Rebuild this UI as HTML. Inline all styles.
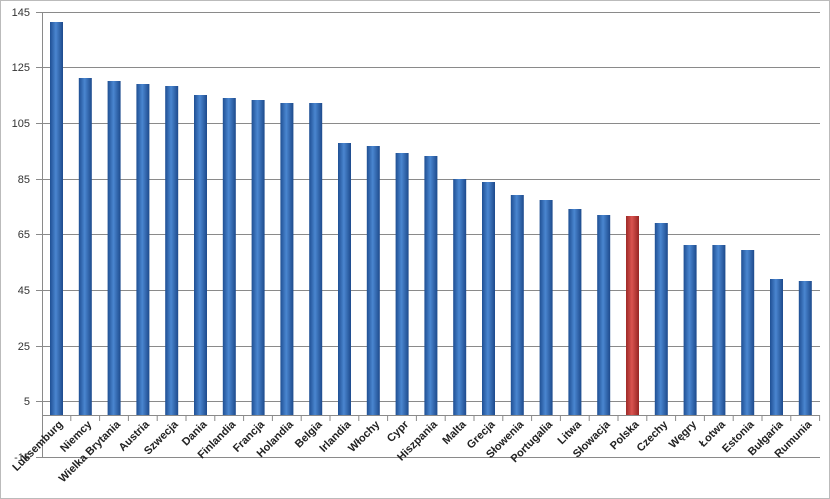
<!DOCTYPE html>
<html><head><meta charset="utf-8"><style>body{margin:0;background:#fff}svg{display:block}</style></head><body>
<svg width="830" height="499" xmlns="http://www.w3.org/2000/svg" font-family="Liberation Sans, sans-serif">
<defs>
<linearGradient id="b" x1="0" x2="1"><stop offset="0" stop-color="#1f4f93"/><stop offset="0.45" stop-color="#4a86d0"/><stop offset="1" stop-color="#1d4a8c"/></linearGradient>
<linearGradient id="r" x1="0" x2="1"><stop offset="0" stop-color="#9e2a28"/><stop offset="0.45" stop-color="#d9534f"/><stop offset="1" stop-color="#962523"/></linearGradient>
</defs>
<rect x="0.5" y="0.5" width="829" height="498" fill="#fff" stroke="#bbb"/>
<g stroke="#8a8a8a" stroke-width="1">
<line x1="36" y1="12.5" x2="820" y2="12.5"/><line x1="36" y1="67.5" x2="820" y2="67.5"/><line x1="36" y1="123.5" x2="820" y2="123.5"/><line x1="36" y1="179.5" x2="820" y2="179.5"/><line x1="36" y1="234.5" x2="820" y2="234.5"/><line x1="36" y1="290.5" x2="820" y2="290.5"/><line x1="36" y1="346.5" x2="820" y2="346.5"/><line x1="36" y1="401.5" x2="820" y2="401.5"/><line x1="36" y1="457.5" x2="820" y2="457.5"/>
<line x1="42.5" y1="12" x2="42.5" y2="458"/>
<line x1="42" y1="415.5" x2="820" y2="415.5"/>
<path d="M70.8 415V421M99.6 415V421M128.4 415V421M157.2 415V421M186 415V421M214.8 415V421M243.6 415V421M272.4 415V421M301.2 415V421M330 415V421M358.8 415V421M387.6 415V421M416.4 415V421M445.2 415V421M474 415V421M502.8 415V421M531.6 415V421M560.4 415V421M589.2 415V421M618 415V421M646.8 415V421M675.6 415V421M704.4 415V421M733.2 415V421M762 415V421M790.8 415V421M819.6 415V421"/>
</g>
<g font-size="11" fill="#333" text-anchor="end">
<text x="30" y="16">145</text><text x="30" y="71">125</text><text x="30" y="127">105</text><text x="30" y="183">85</text><text x="30" y="238">65</text><text x="30" y="294">45</text><text x="30" y="350">25</text><text x="30" y="405">5</text><text x="30" y="461">-15</text>
</g>
<g fill="url(#b)">
<rect x="50" y="22" width="13" height="393"/>
<rect x="78.8" y="78" width="13" height="337"/>
<rect x="107.6" y="81" width="13" height="334"/>
<rect x="136.4" y="84" width="13" height="331"/>
<rect x="165.2" y="86" width="13" height="329"/>
<rect x="194" y="95" width="13" height="320"/>
<rect x="222.8" y="98" width="13" height="317"/>
<rect x="251.6" y="100" width="13" height="315"/>
<rect x="280.4" y="103" width="13" height="312"/>
<rect x="309.2" y="103" width="13" height="312"/>
<rect x="338" y="143" width="13" height="272"/>
<rect x="366.8" y="146" width="13" height="269"/>
<rect x="395.6" y="153" width="13" height="262"/>
<rect x="424.4" y="156" width="13" height="259"/>
<rect x="453.2" y="179" width="13" height="236"/>
<rect x="482" y="182" width="13" height="233"/>
<rect x="510.8" y="195" width="13" height="220"/>
<rect x="539.6" y="200" width="13" height="215"/>
<rect x="568.4" y="209" width="13" height="206"/>
<rect x="597.2" y="215" width="13" height="200"/>
<rect x="654.8" y="223" width="13" height="192"/>
<rect x="683.6" y="245" width="13" height="170"/>
<rect x="712.4" y="245" width="13" height="170"/>
<rect x="741.2" y="250" width="13" height="165"/>
<rect x="770" y="279" width="13" height="136"/>
<rect x="798.8" y="281" width="13" height="134"/>
</g>
<rect x="626" y="216" width="13" height="199" fill="url(#r)"/>
<g font-size="11" font-weight="bold" fill="#222" text-anchor="end">
<text transform="translate(63.4,425) rotate(-45)">Luksemburg</text>
<text transform="translate(92.2,425) rotate(-45)">Niemcy</text>
<text transform="translate(121,425) rotate(-45)">Wielka Brytania</text>
<text transform="translate(149.8,425) rotate(-45)">Austria</text>
<text transform="translate(178.6,425) rotate(-45)">Szwecja</text>
<text transform="translate(207.4,425) rotate(-45)">Dania</text>
<text transform="translate(236.2,425) rotate(-45)">Finlandia</text>
<text transform="translate(265,425) rotate(-45)">Francja</text>
<text transform="translate(293.8,425) rotate(-45)">Holandia</text>
<text transform="translate(322.6,425) rotate(-45)">Belgia</text>
<text transform="translate(351.4,425) rotate(-45)">Irlandia</text>
<text transform="translate(380.2,425) rotate(-45)">Włochy</text>
<text transform="translate(409,425) rotate(-45)">Cypr</text>
<text transform="translate(437.8,425) rotate(-45)">Hiszpania</text>
<text transform="translate(466.6,425) rotate(-45)">Malta</text>
<text transform="translate(495.4,425) rotate(-45)">Grecja</text>
<text transform="translate(524.2,425) rotate(-45)">Słowenia</text>
<text transform="translate(553,425) rotate(-45)">Portugalia</text>
<text transform="translate(581.8,425) rotate(-45)">Litwa</text>
<text transform="translate(610.6,425) rotate(-45)">Słowacja</text>
<text transform="translate(639.4,425) rotate(-45)">Polska</text>
<text transform="translate(668.2,425) rotate(-45)">Czechy</text>
<text transform="translate(697,425) rotate(-45)">Węgry</text>
<text transform="translate(725.8,425) rotate(-45)">Łotwa</text>
<text transform="translate(754.6,425) rotate(-45)">Estonia</text>
<text transform="translate(783.4,425) rotate(-45)">Bułgaria</text>
<text transform="translate(812.2,425) rotate(-45)">Rumunia</text>
</g>
</svg>
</body></html>
